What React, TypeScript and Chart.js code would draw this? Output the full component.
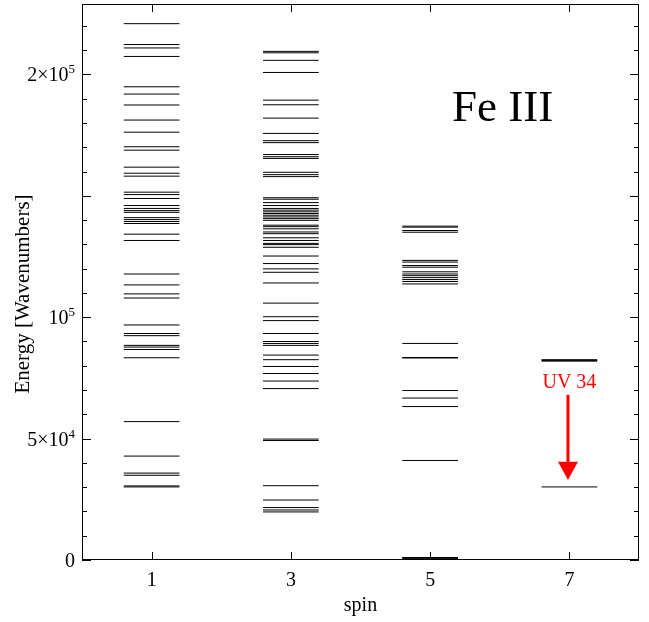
import React, { useEffect, useRef } from 'react';
import { Chart, registerables } from 'chart.js';

Chart.register(...registerables);

// ---- data (energies in cm^-1) ----
const spins = [1, 3, 5, 7];

const spin1Levels = [
  220900, 212300, 210900, 207400, 194900, 191900, 187400, 181200, 176200, 170200,
  168800, 161800, 159300, 158100, 151500, 150500, 148900, 146000, 144800, 143900,
  143200, 141000, 140200, 139400, 138600, 134200, 131600, 117800, 113300, 109600,
  107900, 96800, 93300, 92400, 88400, 87700, 86700, 83300, 57000, 42800,
  35800, 34900, 30500, 30100,
];

const spin3Levels = [
  209500, 208900, 205800, 200800, 189400, 187500, 182000, 175700, 172700, 171900,
  167000, 166100, 165400, 159700, 158700, 157900, 149200, 148600, 147200, 146000,
  144800, 144100, 143400, 142700, 142000, 141300, 140600, 139900, 137900, 137300,
  136400, 135100, 134400, 132700, 131600, 130400, 129900, 128800, 125200, 122100,
  119900, 118500, 114100, 105800, 100200, 98600, 93300, 90000, 89200, 88400,
  84400, 82500, 79700, 76800, 73700, 70600, 49800, 49200, 30600, 24700,
  21600, 20600, 19800,
];

const spin5Levels = [
  137500, 137100, 135700, 135000, 123400, 122700, 121300, 120600, 118700, 117800,
  117100, 116300, 115500, 114700, 113700, 89200, 83400, 83200, 69800, 66700,
  63200, 41000, 1027, 932, 739, 436, 0,
];

const spin7Levels = [82500, 82200, 81900, 30100];

const levelSets = [spin1Levels, spin3Levels, spin5Levels, spin7Levels];

// axis ticks / labels
const xMin = 0;
const xMax = 8;
const yMin = 0;
const yMax = 229000;
const yMinorStep = 10000;
const yMinorLast = 220000;
const yMajorStep = 50000;
const yLabelValues = [0, 50000, 100000, 200000];
const yLabelBases = ['0', '5×10', '10', '2×10'];
const yLabelExps = ['', '4', '5', '5'];
const yTitle = 'Energy [Wavenumbers]';

// annotations
const titleText = 'Fe III';
const titlePos = { x: 6.04, y: 180750 };
const uvText = 'UV 34';
const uvTextPos = { x: 7.0, y: 71000 };
const arrowX = 6.98;
const arrowFrom = 68000;
const arrowHeadBase = 40500;
const arrowTip = 33000;

const HALF_WIDTH = 0.4;
const SERIF = '"Liberation Serif", "Times New Roman", serif';

function buildLevelData(spin: number, levels: number[]) {
  const pts: { x: number; y: number | null }[] = [];
  for (const e of levels) {
    pts.push({ x: spin - HALF_WIDTH, y: e });
    pts.push({ x: spin + HALF_WIDTH, y: e });
    pts.push({ x: spin, y: null });
  }
  return pts;
}

const decorPlugin = {
  id: 'decor',
  afterDraw(chart: any) {
    const { ctx, chartArea: a, scales } = chart;
    const xs = scales.x;
    const ys = scales.y;
    ctx.save();
    ctx.strokeStyle = '#000';
    ctx.lineWidth = 1;

    // y ticks (inward, both sides)
    ctx.beginPath();
    for (let v = yMin; v <= yMinorLast; v += yMinorStep) {
      const py = Math.round(ys.getPixelForValue(v)) + 0.5;
      const len = v % yMajorStep === 0 ? 9 : 5;
      ctx.moveTo(a.left, py);
      ctx.lineTo(a.left + len, py);
      ctx.moveTo(a.right, py);
      ctx.lineTo(a.right - len, py);
    }
    // x ticks (inward, bottom and top)
    for (const s of spins) {
      const px = Math.round(xs.getPixelForValue(s)) + 0.5;
      ctx.moveTo(px, a.bottom);
      ctx.lineTo(px, a.bottom - 8);
      ctx.moveTo(px, a.top);
      ctx.lineTo(px, a.top + 8);
    }
    ctx.stroke();

    // frame
    ctx.strokeRect(a.left + 0.5, a.top + 0.5, a.right - a.left - 1, a.bottom - a.top - 1);

    // y labels with superscripts
    ctx.fillStyle = '#000';
    ctx.textBaseline = 'alphabetic';
    ctx.textAlign = 'left';
    const rightEdge = a.left - 7;
    yLabelValues.forEach((v, i) => {
      const py = ys.getPixelForValue(v);
      const base = py + 7;
      ctx.font = `13px ${SERIF}`;
      const expW = yLabelExps[i] ? ctx.measureText(yLabelExps[i]).width : 0;
      ctx.font = `20px ${SERIF}`;
      const baseW = ctx.measureText(yLabelBases[i]).width;
      ctx.fillText(yLabelBases[i], rightEdge - expW - baseW, base);
      if (yLabelExps[i]) {
        ctx.font = `13px ${SERIF}`;
        ctx.fillText(yLabelExps[i], rightEdge - expW, base - 8);
      }
    });

    // y axis title (rotated)
    ctx.save();
    ctx.translate(23, (a.top + a.bottom) / 2 + 12);
    ctx.rotate(-Math.PI / 2);
    ctx.font = `21px ${SERIF}`;
    ctx.textAlign = 'center';
    ctx.textBaseline = 'middle';
    ctx.fillText(yTitle, 0, 0);
    ctx.restore();

    // Title
    ctx.font = `45px ${SERIF}`;
    ctx.textAlign = 'center';
    ctx.textBaseline = 'alphabetic';
    ctx.fillText(titleText, xs.getPixelForValue(titlePos.x), ys.getPixelForValue(titlePos.y));

    // UV 34 annotation
    ctx.fillStyle = '#ff0000';
    ctx.strokeStyle = '#ff0000';
    ctx.font = `20px ${SERIF}`;
    ctx.fillText(uvText, xs.getPixelForValue(uvTextPos.x), ys.getPixelForValue(uvTextPos.y));

    const ax = xs.getPixelForValue(arrowX);
    const y0 = ys.getPixelForValue(arrowFrom);
    const y1 = ys.getPixelForValue(arrowHeadBase);
    const y2 = ys.getPixelForValue(arrowTip);
    ctx.lineWidth = 3;
    ctx.beginPath();
    ctx.moveTo(ax, y0);
    ctx.lineTo(ax, y1 + 2);
    ctx.stroke();
    ctx.beginPath();
    ctx.moveTo(ax - 10, y1);
    ctx.lineTo(ax + 10, y1);
    ctx.lineTo(ax, y2);
    ctx.closePath();
    ctx.fill();

    ctx.restore();
  },
};

export default function App() {
  const canvasRef = useRef<HTMLCanvasElement | null>(null);

  useEffect(() => {
    const canvas = canvasRef.current;
    if (!canvas) return;
    const datasets = levelSets.map((levels, i) => ({
      data: buildLevelData(spins[i], levels),
      showLine: true,
      borderColor: '#000',
      backgroundColor: '#000',
      borderWidth: 1,
      pointRadius: 0,
      spanGaps: false,
    }));

    const chart = new Chart(canvas, {
      type: 'scatter',
      data: { datasets },
      options: {
        responsive: false,
        animation: false,
        devicePixelRatio: 1,
        layout: { padding: { left: 0, right: 10, top: 4, bottom: 0 } },
        plugins: { legend: { display: false }, tooltip: { enabled: false } },
        scales: {
          x: {
            type: 'linear',
            min: xMin,
            max: xMax,
            grid: { display: false, drawTicks: false },
            border: { display: false },
            afterBuildTicks: (s: any) => {
              s.ticks = spins.map((v) => ({ value: v }));
            },
            ticks: {
              autoSkip: false,
              maxRotation: 0,
              padding: 9,
              color: '#000',
              font: { family: SERIF, size: 20 },
              callback: (v: any) => String(v),
            },
            title: {
              display: true,
              text: 'spin',
              color: '#000',
              font: { family: SERIF, size: 20 },
              padding: { top: 0, bottom: 4 },
            },
            afterFit: (s: any) => {
              s.height = 62;
            },
          },
          y: {
            type: 'linear',
            min: yMin,
            max: yMax,
            grid: { display: false, drawTicks: false },
            border: { display: false },
            ticks: { display: false },
            title: { display: false },
            afterFit: (s: any) => {
              s.width = 82;
            },
          },
        },
      },
      plugins: [decorPlugin],
    } as any);

    return () => chart.destroy();
  }, []);

  return (
    <div style={{ position: 'absolute', left: 0, top: 0, width: 649, height: 622, background: '#fff' }}>
      <canvas ref={canvasRef} width={649} height={622} style={{ width: 649, height: 622, display: 'block' }} />
    </div>
  );
}
